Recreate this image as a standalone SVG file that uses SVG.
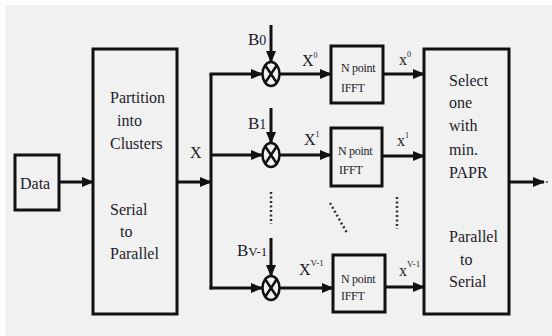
<svg xmlns="http://www.w3.org/2000/svg" width="552" height="336" viewBox="0 0 552 336">
<defs>
<marker id="ah" markerWidth="12" markerHeight="10" refX="11" refY="5" orient="auto" markerUnits="userSpaceOnUse">
<path d="M0,0 L12,5 L0,10 Z" fill="#111"/>
</marker>
<style>
.bx{fill:none;stroke:#111;stroke-width:3}
.ln{fill:none;stroke:#111;stroke-width:3}
.ar{fill:none;stroke:#111;stroke-width:3;marker-end:url(#ah)}
.dt{fill:none;stroke:#333;stroke-width:2.5;stroke-dasharray:2 2.5}
text{font-family:"Liberation Serif","Times New Roman",serif;fill:#1c1c2a}
.big{font-size:16px}
.sm{font-size:12px;letter-spacing:-0.3px}
.mul{fill:none;stroke:#111;stroke-width:2.5}
</style>
</defs>
<rect x="0" y="0" width="552" height="336" fill="#ffffff"/>
<rect x="5" y="5" width="547" height="331" fill="#f1f1f1"/>

<g id="data">
<rect class="bx" x="15" y="155" width="44" height="55"/>
<text class="big" x="20" y="189">Data</text>
</g>

<g id="partition">
<rect class="bx" x="93" y="49" width="84" height="265"/>
<text class="big" x="110" y="103">Partition</text>
<text class="big" x="117" y="126">into</text>
<text class="big" x="110" y="149">Clusters</text>
<text class="big" x="110" y="215">Serial</text>
<text class="big" x="120" y="237">to</text>
<text class="big" x="110" y="259">Parallel</text>
</g>

<g id="mul0">
<ellipse class="mul" cx="271" cy="74" rx="8.5" ry="12"/>
<path class="mul" d="M265,65 L277,83 M277,65 L265,83" stroke-width="2"/>
</g>
<g id="mul1">
<ellipse class="mul" cx="271" cy="155" rx="8.5" ry="12"/>
<path class="mul" d="M265,146 L277,164 M277,146 L265,164" stroke-width="2"/>
</g>
<g id="mul2">
<ellipse class="mul" cx="271" cy="288" rx="8.5" ry="12"/>
<path class="mul" d="M265,279 L277,297 M277,279 L265,297" stroke-width="2"/>
</g>

<g id="ifft0">
<rect class="bx" x="331" y="46" width="52" height="57"/>
<text class="sm" x="341" y="72">N point</text>
<text class="sm" x="341" y="92">IFFT</text>
</g>
<g id="ifft1">
<rect class="bx" x="331" y="128" width="51" height="58"/>
<text class="sm" x="338" y="155">N point</text>
<text class="sm" x="339" y="174">IFFT</text>
</g>
<g id="ifft2">
<rect class="bx" x="333" y="255" width="52" height="57"/>
<text class="sm" x="341" y="283">N point</text>
<text class="sm" x="341" y="300">IFFT</text>
</g>

<g id="select">
<rect class="bx" x="424" y="49" width="85" height="265"/>
<text class="big" x="449" y="86">Select</text>
<text class="big" x="449" y="108">one</text>
<text class="big" x="449" y="131">with</text>
<text class="big" x="449" y="155">min.</text>
<text class="big" x="449" y="178">PAPR</text>
<text class="big" x="449" y="242">Parallel</text>
<text class="big" x="460" y="265">to</text>
<text class="big" x="449" y="287">Serial</text>
</g>

<g id="connectors">
<line class="ar" x1="59" y1="182" x2="93" y2="182"/>
<line class="ar" x1="177" y1="182" x2="211" y2="182"/>
<line class="ln" x1="211" y1="74" x2="211" y2="289.5"/>
<line class="ar" x1="209.5" y1="74" x2="262" y2="74"/>
<line class="ar" x1="211" y1="155" x2="262" y2="155"/>
<line class="ar" x1="209.5" y1="288" x2="262" y2="288"/>
<line class="ar" x1="271" y1="25" x2="271" y2="62"/>
<line class="ar" x1="271" y1="108" x2="271" y2="143"/>
<line class="ar" x1="271" y1="238" x2="271" y2="276"/>
<line class="ar" x1="280" y1="74" x2="331" y2="74"/>
<line class="ar" x1="280" y1="155" x2="331" y2="155"/>
<line class="ar" x1="280" y1="288" x2="333" y2="288"/>
<line class="ar" x1="383" y1="74" x2="424" y2="74"/>
<line class="ar" x1="382" y1="156" x2="424" y2="156"/>
<line class="ar" x1="385" y1="287" x2="424" y2="287"/>
<line class="ar" x1="509" y1="182" x2="544" y2="182"/>
<circle cx="547" cy="182" r="1" fill="#444"/>
<line class="dt" x1="271" y1="192" x2="271" y2="224"/>
<line class="dt" x1="330" y1="203" x2="347" y2="233"/>
<line class="dt" x1="397" y1="197" x2="397" y2="229"/>
</g>

<g id="labels">
<text class="big" x="190" y="158">X</text>
<text x="248" y="45" font-size="17">B<tspan font-size="14">0</tspan></text>
<text x="248" y="129" font-size="17">B<tspan font-size="14">1</tspan></text>
<text x="237" y="256" font-size="17">B<tspan font-size="13">V-1</tspan></text>
<text class="big" x="302" y="66">X<tspan font-size="8" dy="-8">0</tspan></text>
<text class="big" x="304" y="145">X<tspan font-size="8" dy="-8">1</tspan></text>
<text class="big" x="299" y="275">X<tspan font-size="9" dy="-9">V-1</tspan></text>
<text class="big" x="399" y="65">x<tspan font-size="8" dy="-8">0</tspan></text>
<text class="big" x="397" y="146">x<tspan font-size="8" dy="-8">1</tspan></text>
<text class="big" x="399" y="276">x<tspan font-size="9" dy="-9">V-1</tspan></text>
</g>
</svg>
